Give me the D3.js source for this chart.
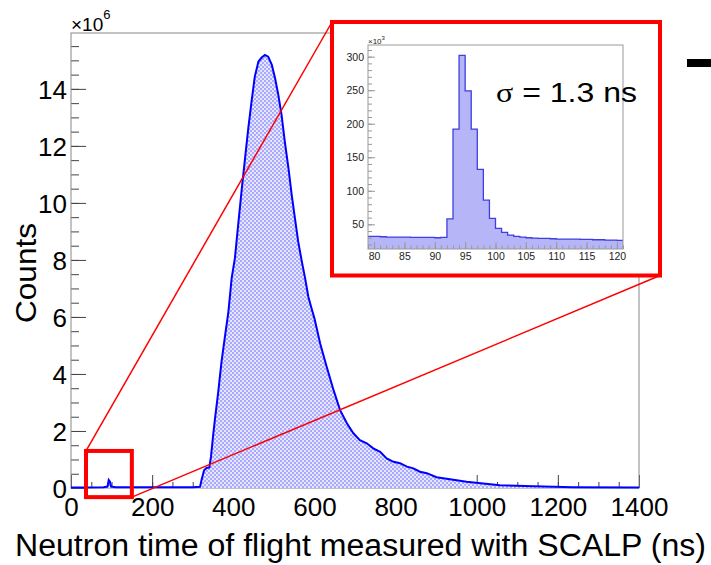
<!DOCTYPE html>
<html>
<head>
<meta charset="utf-8">
<script src="https://cdn.jsdelivr.net/npm/d3@7"></script>
<style>
  body { margin: 0; background: #fff; }
  text { font-family: "Liberation Sans", Arial, sans-serif; fill: #000; }
</style>
</head>
<body>
<script>
'use strict';

// main histogram: time of flight (ns) and counts (x10^6)
const mainTime = [0, 30, 80, 90, 93, 96, 99, 110, 200, 300, 318, 322, 328, 334, 341, 345, 350, 355,
    363, 371, 380, 388, 396, 404, 412, 421, 429, 437, 445, 453, 462, 470, 478, 486, 495, 503, 511,
    519, 527, 536, 544, 552, 560, 569, 577, 585, 593, 600, 614, 630, 647, 663, 680, 696, 712, 729,
    745, 762, 778, 795, 811, 828, 844, 860, 877, 901, 934, 975, 1016, 1057, 1140, 1237, 1400];
const mainCounts = [0.02, 0.02, 0.03, 0.05, 0.28, 0.22, 0.05, 0.03, 0.03, 0.03, 0.04, 0.3, 0.62, 0.7,
    0.72, 1.1, 1.8, 2.44, 3.38, 4.43, 5.37, 6.19, 7.36, 8.06, 9.23, 10.5, 11.57, 12.62, 13.55, 14.43,
    14.96, 15.1, 15.19, 15.13, 14.84, 14.37, 13.79, 13.09, 12.15, 11.22, 10.28, 9.46, 8.64, 7.94,
    7.36, 6.71, 6.3, 5.95, 5.08, 4.26, 3.44, 2.74, 2.27, 1.92, 1.68, 1.57, 1.39, 1.27, 1.04, 0.92,
    0.87, 0.75, 0.69, 0.57, 0.52, 0.38, 0.31, 0.22, 0.16, 0.1, 0.06, 0.03, 0.02];

// inset histogram: 1 ns bins (low edge) and counts (x10^3)
const insetBins = [79, 80, 81, 82, 83, 84, 85, 86, 87, 88, 89, 90, 91, 92, 93, 94, 95, 96, 97, 98,
    99, 100, 101, 102, 103, 104, 105, 106, 107, 108, 109, 110, 111, 112, 113, 114, 115, 116, 117,
    118, 119, 120];
const insetCounts = [32, 32, 31.5, 31, 31, 31, 31, 30.5, 30.5, 30.5, 30.5, 30, 30.5, 58, 192, 302,
    249, 192, 132, 86, 59, 44, 38, 34, 32, 31, 30, 29.5, 29, 29, 28.5, 28, 28, 28, 28, 27.5, 27.5,
    27, 27, 26.5, 26.5, 26];
const insetBinWidth = 1;

// tick labels
const mainXTicks = [0, 200, 400, 600, 800, 1000, 1200, 1400];
const mainYTicks = [0, 2, 4, 6, 8, 10, 12, 14];
const insetXTicks = [80, 85, 90, 95, 100, 105, 110, 115, 120];
const insetYTicks = [50, 100, 150, 200, 250, 300];

// region shown in the inset (ns, x10^6)
const zoomTime = [37, 150];
const zoomCounts = [-0.32, 1.3];

(function () {

    let svgContainer = "";

    window.onload = function () {
        svgContainer = d3.select('body')
            .append('svg')
            .attr('width', 711)
            .attr('height', 565);

        makeDefs();
        let map = drawAxes();
        plotData(map);
        drawInset();
        drawZoomMarks(map);
        makeLabels();
    }

    // checker fill like ROOT's fill style
    function makeDefs() {
        let pat = svgContainer.append('defs').append('pattern')
            .attr('id', 'dots')
            .attr('patternUnits', 'userSpaceOnUse')
            .attr('width', 4)
            .attr('height', 4);
        pat.append('rect').attr('width', 4).attr('height', 4).attr('fill', '#e6e6ff');
        pat.append('rect').attr('width', 2).attr('height', 2).attr('fill', '#a8a8ff');
        pat.append('rect').attr('x', 2).attr('y', 2).attr('width', 2).attr('height', 2).attr('fill', '#a8a8ff');
    }

    function drawAxes() {
        let xScale = d3.scaleLinear().domain([0, 1400]).range([71, 639]);
        let yScale = d3.scaleLinear().domain([0, 15.96]).range([488, 33]);

        // minor ticks
        svgContainer.append('g')
            .attr('transform', 'translate(0, 488)')
            .call(d3.axisBottom(xScale).tickValues(d3.range(0, 1401, 50)).tickSize(-6).tickFormat(''))
            .call(g => g.select('.domain').remove());
        svgContainer.append('g')
            .attr('transform', 'translate(71, 0)')
            .call(d3.axisLeft(yScale).tickValues(d3.range(0, 15.9, 0.5)).tickSize(-8).tickFormat(''))
            .call(g => g.select('.domain').remove());

        // major ticks + labels
        let xAxis = svgContainer.append('g')
            .attr('transform', 'translate(0, 488)')
            .call(d3.axisBottom(xScale).tickValues(mainXTicks).tickSize(-13).tickFormat(d3.format('d')));
        xAxis.select('.domain').remove();
        xAxis.selectAll('text')
            .style('font-size', '26px')
            .attr('y', 28)
            .attr('dy', 0);

        let yAxis = svgContainer.append('g')
            .attr('transform', 'translate(71, 0)')
            .call(d3.axisLeft(yScale).tickValues(mainYTicks).tickSize(-15).tickPadding(4));
        yAxis.select('.domain').remove();
        yAxis.selectAll('text')
            .style('font-size', '26px')
            .attr('dy', '0.36em');

        svgContainer.selectAll('.tick line').attr('stroke', '#444');

        // frame
        svgContainer.append('rect')
            .attr('x', 71)
            .attr('y', 33)
            .attr('width', 639 - 71)
            .attr('height', 488 - 33)
            .attr('fill', 'none')
            .attr('stroke', '#888')
            .attr('stroke-width', 1);

        return { x: xScale, y: yScale };
    }

    function plotData(map) {
        let pts = mainTime.map((t, i) => [t, mainCounts[i]]);

        let area = d3.area()
            .x(d => map.x(d[0]))
            .y0(map.y(0))
            .y1(d => map.y(d[1]));
        let line = d3.line()
            .x(d => map.x(d[0]))
            .y(d => map.y(d[1]));

        svgContainer.append('path')
            .datum(pts)
            .attr('d', area)
            .attr('fill', 'url(#dots)');
        svgContainer.append('path')
            .datum(pts)
            .attr('d', line)
            .attr('fill', 'none')
            .attr('stroke', '#0000ff')
            .attr('stroke-width', 2);
    }

    function drawInset() {
        // white box with red border
        svgContainer.append('rect')
            .attr('x', 332)
            .attr('y', 22)
            .attr('width', 660 - 332)
            .attr('height', 275.5 - 22)
            .attr('fill', '#fff')
            .attr('stroke', '#ff0000')
            .attr('stroke-width', 4);

        let xScale = d3.scaleLinear().domain([79, 121]).range([368, 623]);
        let yScale = d3.scaleLinear().domain([13.2, 317.4]).range([249, 45]);

        let pts = insetBins.map((b, i) => [b, insetCounts[i]]);
        let last = insetBins[insetBins.length - 1] + insetBinWidth;
        pts.push([last, insetCounts[insetCounts.length - 1]]);

        let area = d3.area()
            .curve(d3.curveStepAfter)
            .x(d => xScale(d[0]))
            .y0(yScale.range()[0])
            .y1(d => yScale(d[1]));
        let line = d3.line()
            .curve(d3.curveStepAfter)
            .x(d => xScale(d[0]))
            .y(d => yScale(d[1]));

        svgContainer.append('path')
            .datum(pts)
            .attr('d', area)
            .attr('fill', '#b5b5f7');
        svgContainer.append('path')
            .datum(pts)
            .attr('d', line)
            .attr('fill', 'none')
            .attr('stroke', '#3f3fe0')
            .attr('stroke-width', 1.3);

        // ticks
        let g = svgContainer.append('g').attr('class', 'inset');
        g.append('g')
            .attr('transform', 'translate(0, 249)')
            .call(d3.axisBottom(xScale).tickValues(d3.range(79, 122, 1)).tickSize(-3.5).tickFormat(''))
            .call(a => a.select('.domain').remove());
        g.append('g')
            .attr('transform', 'translate(368, 0)')
            .call(d3.axisLeft(yScale).tickValues(d3.range(20, 317, 10)).tickSize(-4).tickFormat(''))
            .call(a => a.select('.domain').remove());

        let xAxis = g.append('g')
            .attr('transform', 'translate(0, 249)')
            .call(d3.axisBottom(xScale).tickValues(insetXTicks).tickSize(-7).tickPadding(3));
        xAxis.select('.domain').remove();
        xAxis.selectAll('text')
            .style('font-size', '10.5px')
            .style('fill', '#222')
            .attr('y', 4);

        let yAxis = g.append('g')
            .attr('transform', 'translate(368, 0)')
            .call(d3.axisLeft(yScale).tickValues(insetYTicks).tickSize(-7).tickPadding(4));
        yAxis.select('.domain').remove();
        yAxis.selectAll('text')
            .style('font-size', '10.5px')
            .style('fill', '#222');

        g.selectAll('.tick line').attr('stroke', '#999');

        g.append('rect')
            .attr('x', 368)
            .attr('y', 45)
            .attr('width', 623 - 368)
            .attr('height', 249 - 45)
            .attr('fill', 'none')
            .attr('stroke', '#999')
            .attr('stroke-width', 1);

        let mult = g.append('text')
            .attr('x', 368)
            .attr('y', 44)
            .style('font-size', '8px')
            .style('fill', '#222')
            .text('\u00d710');
        mult.append('tspan')
            .attr('dy', -4)
            .style('font-size', '6px')
            .text('3');

        let sig = svgContainer.append('text')
            .attr('x', 496)
            .attr('y', 102)
            .attr('textLength', 141)
            .attr('lengthAdjust', 'spacingAndGlyphs')
            .style('font-size', '27px');
        sig.append('tspan')
            .style('font-family', '"Liberation Serif", serif')
            .text('\u03c3');
        sig.append('tspan').text(' = 1.3 ns');
    }

    // red box around the peak and the lines to the inset
    function drawZoomMarks(map) {
        let x0 = map.x(zoomTime[0]), x1 = map.x(zoomTime[1]);
        let y0 = map.y(zoomCounts[1]), y1 = map.y(zoomCounts[0]);

        svgContainer.append('line')
            .attr('x1', x0).attr('y1', y0)
            .attr('x2', 332).attr('y2', 22)
            .attr('stroke', '#ff0000')
            .attr('stroke-width', 1.5);
        svgContainer.append('line')
            .attr('x1', x1).attr('y1', y1)
            .attr('x2', 660).attr('y2', 275.5)
            .attr('stroke', '#ff0000')
            .attr('stroke-width', 1.5);

        svgContainer.append('rect')
            .attr('x', x0)
            .attr('y', y0)
            .attr('width', x1 - x0)
            .attr('height', y1 - y0)
            .attr('fill', 'none')
            .attr('stroke', '#ff0000')
            .attr('stroke-width', 4);

        // cut-off mark at the right edge
        svgContainer.append('rect')
            .attr('x', 687)
            .attr('y', 59)
            .attr('width', 24)
            .attr('height', 8)
            .attr('fill', '#000');
    }

    function makeLabels() {
        let mult = svgContainer.append('text')
            .attr('x', 71)
            .attr('y', 31)
            .style('font-size', '19px')
            .text('\u00d710');
        mult.append('tspan')
            .attr('dy', -12)
            .style('font-size', '13px')
            .text('6');

        svgContainer.append('text')
            .attr('transform', 'translate(36, 273)rotate(-90)')
            .attr('text-anchor', 'middle')
            .attr('textLength', 100)
            .attr('lengthAdjust', 'spacingAndGlyphs')
            .style('font-size', '30px')
            .text('Counts');

        svgContainer.append('text')
            .attr('x', 15)
            .attr('y', 556)
            .attr('textLength', 691)
            .attr('lengthAdjust', 'spacingAndGlyphs')
            .style('font-size', '31px')
            .text('Neutron time of flight measured with SCALP (ns)');
    }

})();
</script>
</body>
</html>
